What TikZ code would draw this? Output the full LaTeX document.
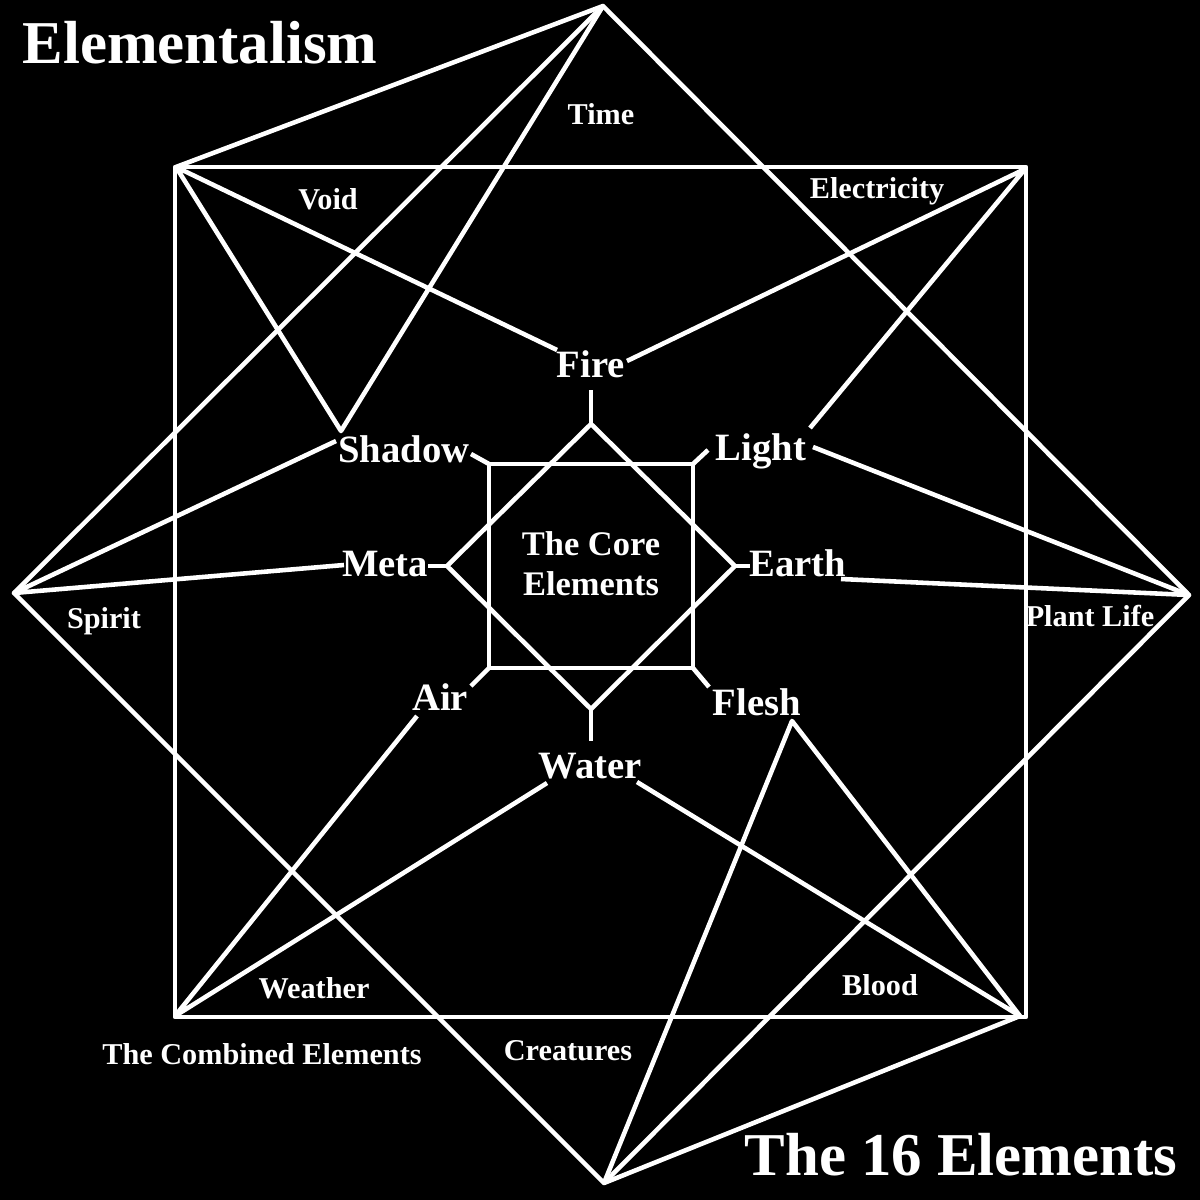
\documentclass[tikz,border=0pt]{standalone}
\usepackage{fontspec}
\setmainfont{Liberation Serif}

\begin{document}
\begin{tikzpicture}[x=0.01cm, y=-0.01cm,
    wire/.style={white, line width=1.3pt, line join=round},
    title/.style={text=white, inner sep=0pt, font=\bfseries\fontsize{17.3}{20}\selectfont},
    elem/.style={text=white, inner sep=0pt, anchor=base, font=\bfseries\fontsize{11}{13}\selectfont},
    region/.style={text=white, inner sep=0pt, anchor=base, font=\bfseries\fontsize{8.6}{10}\selectfont}]

    % Background
    \fill[black] (0,0) rectangle (1200,1200);
    \useasboundingbox (0,0) rectangle (1200,1200);

    % Outer points
    \coordinate (top) at (603,6);
    \coordinate (right) at (1189,595);
    \coordinate (bottom) at (604,1183);
    \coordinate (left) at (14,593);
    \coordinate (tl) at (176,167);
    \coordinate (tr) at (1025,169);
    \coordinate (br) at (1020,1016);
    \coordinate (bl) at (175,1016);

    % Inner points
    \coordinate (dN) at (591,424);
    \coordinate (dE) at (735,566);
    \coordinate (dS) at (591,709);
    \coordinate (dW) at (447,566);
    \coordinate (qNW) at (489,464);
    \coordinate (qNE) at (693,464);
    \coordinate (qSE) at (693,668);
    \coordinate (qSW) at (489,668);

    % Titles
    \node[title, anchor=base west] (name) at (22,63) {Elementalism};
    \node[title, anchor=base east] (count) at (1178,1175) {The 16 Elements};

    % Core elements
    \node[elem] (fire) at (591,377) {Fire};
    \node[elem] (shadow) at (404,462) {Shadow};
    \node[elem] (light) at (761,460) {Light};
    \node[elem] (meta) at (385,576) {Meta};
    \node[elem] (earth) at (798,576) {Earth};
    \node[elem] (air) at (440,710) {Air};
    \node[elem] (flesh) at (757,715) {Flesh};
    \node[elem] (water) at (590,778) {Water};
    \node[region, align=center, font=\bfseries\fontsize{9.8}{11.3}\selectfont] (core) at (591,595) {The Core\\Elements};

    % Combined elements
    \node[region] (time) at (601,124) {Time};
    \node[region] (void) at (328,209) {Void};
    \node[region] (electricity) at (877,198) {Electricity};
    \node[region] (spirit) at (104,628) {Spirit};
    \node[region] (plant) at (1090,626) {Plant Life};
    \node[region] (weather) at (314,998) {Weather};
    \node[region] (blood) at (880,995) {Blood};
    \node[region] (creatures) at (568,1060) {Creatures};
    \node[region] (combined) at (262,1064) {The Combined Elements};

    % Line ends at the labels
    \coordinate (fireL) at (557,350);
    \coordinate (fireR) at (627,361);
    \coordinate (shadowT) at (341,431);
    \coordinate (shadowL) at (336,441);
    \coordinate (metaL) at (344,565);
    \coordinate (lightT) at (810,428);
    \coordinate (lightR) at (813,447);
    \coordinate (earthR) at (841,579);
    \coordinate (fleshB) at (792,721);
    \coordinate (waterR) at (637,782);
    \coordinate (waterL) at (547,783);
    \coordinate (airB) at (417,716);

    % Square and diamond
    \draw[wire] (175,167) rectangle (1026,1017);
    \draw[wire] (top) -- (right) -- (bottom) -- (left) -- cycle;
    \draw[wire] (top) -- (tl);
    \draw[wire] (bottom) -- (br);

    % Star lines
    \draw[wire] (fireL) -- (tl) -- (shadowT) -- (top);
    \draw[wire] (shadowL) -- (left) -- (metaL);
    \draw[wire] (fireR) -- (tr) -- (lightT);
    \draw[wire] (lightR) -- (right) -- (earthR);
    \draw[wire] (waterR) -- (br) -- (fleshB) -- (bottom);
    \draw[wire] (airB) -- (bl) -- (waterL);

    % Core square, diamond and stubs
    \draw[wire] (qNW) -- (qNE) -- (qSE) -- (qSW) -- cycle;
    \draw[wire] (dN) -- (dE) -- (dS) -- (dW) -- cycle;
    \draw[wire] (dN) -- (591,390);
    \draw[wire] (dS) -- (591,741);
    \draw[wire] (dW) -- (428,566);
    \draw[wire] (dE) -- (750,566);
    \draw[wire] (qNW) -- (471,454);
    \draw[wire] (qNE) -- (708,450);
    \draw[wire] (qSW) -- (471,686);
    \draw[wire] (qSE) -- (709,687);

\end{tikzpicture}
\end{document}
